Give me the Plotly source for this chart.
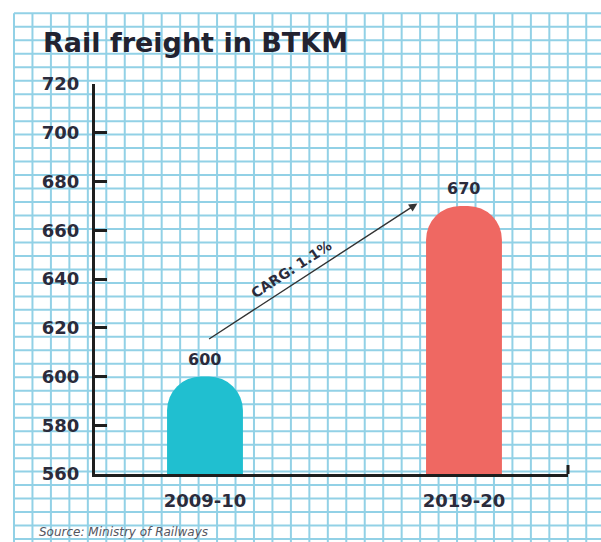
import plotly.graph_objects as go

# ---- data ----
categories = ["2009-10", "2019-20"]
values = [600, 670]
bar_colors = ["#20bfd0", "#ef6862"]
y_ticks = [560, 580, 600, 620, 640, 660, 680, 700, 720]
title_text = "Rail freight in BTKM"
source_text = "Source: Ministry of Railways"
growth_label = "CARG: 1.1%"
arrow_start = (0.01, 615)   # (category index, value)
arrow_end = (0.82, 671)

W, H = 601, 542
fig = go.Figure()

fig.add_trace(go.Bar(
    x=categories, y=values,
    marker=dict(color=bar_colors, cornerradius=34, line=dict(width=0)),
    width=0.293, hoverinfo="skip",
))

# ---- graph-paper background ----
shapes = []
gx0, gdx = 14.0, 18.46
gy0, gdy = 13.3, 13.48
grid_col = "#92d1e6"
x = gx0
while x <= W + 1:
    shapes.append(dict(type="line", xref="paper", yref="paper",
                       x0=x / W, x1=x / W, y0=1 - gy0 / H, y1=0,
                       line=dict(color=grid_col, width=2), layer="below"))
    x += gdx
y = gy0
while y <= H + 1:
    shapes.append(dict(type="line", xref="paper", yref="paper",
                       x0=gx0 / W, x1=1, y0=1 - y / H, y1=1 - y / H,
                       line=dict(color=grid_col, width=2), layer="below"))
    y += gdy

# end cap of the x axis
shapes.append(dict(type="line", xref="x domain", yref="y", ysizemode="pixel",
                   yanchor=y_ticks[0], x0=1, x1=1, y0=0, y1=9,
                   line=dict(color="#1e1e1e", width=3)))

annotations = []
for i, (c, v) in enumerate(zip(categories, values)):
    annotations.append(dict(x=i, y=v, xref="x", yref="y", text=str(v), showarrow=False,
                            yshift=17, font=dict(family="DejaVu Sans", size=16,
                                                 color="#2b2b3b", weight="bold")))
# growth arrow
annotations.append(dict(x=arrow_end[0], y=arrow_end[1], ax=arrow_start[0], ay=arrow_start[1],
                        xref="x", yref="y", axref="x", ayref="y", text="",
                        showarrow=True, arrowhead=2, arrowsize=1.2, arrowwidth=1.4,
                        arrowcolor="#333333", standoff=0, startstandoff=0))
annotations.append(dict(x=0.335, y=644, xref="x", yref="y", text=growth_label,
                        showarrow=False, textangle=-33,
                        font=dict(family="DejaVu Sans", size=14, color="#2b2b3b", weight="bold")))
# title
annotations.append(dict(x=41 / W, y=1 - 42 / H, xref="paper", yref="paper",
                        xanchor="left", yanchor="middle", text=title_text, showarrow=False,
                        font=dict(family="DejaVu Sans", size=27, color="#222230", weight="bold")))
# source
annotations.append(dict(x=37 / W, y=1 - 532 / H, xref="paper", yref="paper",
                        xanchor="left", yanchor="middle", text=source_text, showarrow=False,
                        font=dict(family="DejaVu Sans", size=12, color="#555560", style="italic")))

fig.update_layout(
    width=W, height=H,
    margin=dict(l=0, r=0, t=0, b=0, pad=0, autoexpand=False),
    paper_bgcolor="white", plot_bgcolor="rgba(0,0,0,0)",
    showlegend=False,
    shapes=shapes, annotations=annotations,
    xaxis=dict(type="category", domain=[95 / W, 568 / W], range=[-0.4247, 1.4016],
               showgrid=False, zeroline=False, showline=True, linewidth=3,
               linecolor="#1e1e1e", ticks="", ticklabelstandoff=8, automargin=False,
               tickfont=dict(family="DejaVu Sans", size=18, color="#2b2b3b", weight="bold"),
               fixedrange=True),
    yaxis=dict(domain=[(H - 474) / H, (H - 84) / H], range=[y_ticks[0], y_ticks[-1]],
               tickvals=y_ticks, showgrid=False, zeroline=False, showline=True,
               linewidth=3, linecolor="#1e1e1e", ticks="inside", ticklen=12,
               tickwidth=3, tickcolor="#1e1e1e", ticklabelstandoff=9, automargin=False,
               tickfont=dict(family="DejaVu Sans", size=18, color="#2b2b3b", weight="bold"),
               fixedrange=True),
)

fig.write_html("out.html", config={"displayModeBar": False},
               post_script="document.body.style.margin='0px';")
